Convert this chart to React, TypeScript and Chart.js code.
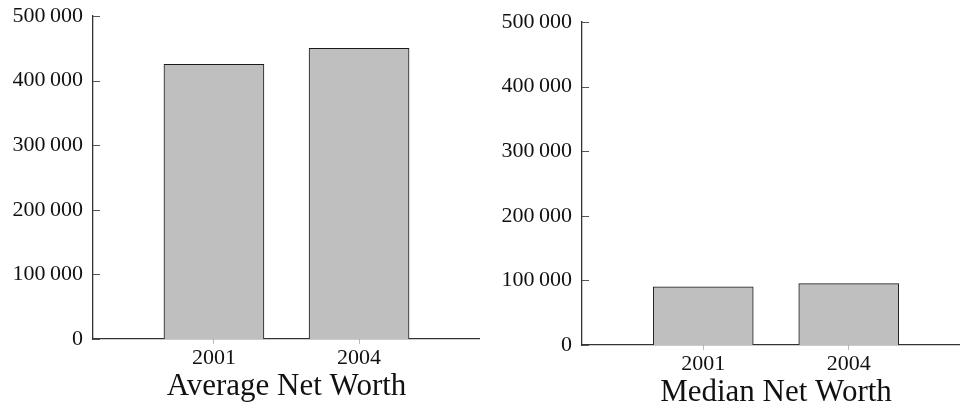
import React, { useEffect, useRef } from "react";
import { Chart, registerables } from "chart.js";

Chart.register(...registerables);

const years = [2001, 2004];
const averageNetWorth = [425000, 450000];
const medianNetWorth = [90000, 95000];
const yTickValues = [0, 100000, 200000, 300000, 400000, 500000];
const averageTitle = "Average Net Worth";
const medianTitle = "Median Net Worth";

const FONT = "'Liberation Serif', 'DejaVu Serif', serif";

const fmt = (v: number) =>
  v === 0 ? "0" : String(v).replace(/\B(?=(\d{3})+(?!\d))/g, "\u2009");

const innerYTicks = {
  id: "innerYTicks",
  afterDraw(chart: any) {
    const y = chart.scales.y;
    const ctx = chart.ctx;
    ctx.save();
    ctx.strokeStyle = "#555";
    ctx.lineWidth = 1;
    for (const t of y.ticks) {
      const py = Math.round(y.getPixelForValue(t.value)) + 0.5;
      ctx.beginPath();
      ctx.moveTo(chart.chartArea.left, py);
      ctx.lineTo(chart.chartArea.left + 7, py);
      ctx.stroke();
    }
    ctx.restore();
  },
};

function BarPanel(props: {
  values: number[];
  title: string;
  yAxisWidth: number;
  width: number;
  left: number;
  top: number;
}) {
  const ref = useRef<HTMLCanvasElement | null>(null);
  useEffect(() => {
    if (!ref.current) return;
    const chart = new Chart(ref.current, {
      type: "bar",
      data: {
        datasets: [
          {
            data: years.map((x, i) => ({ x, y: props.values[i] })),
            backgroundColor: "#bfbfbf",
            borderColor: "#1a1a1a",
            borderWidth: 1,
            barThickness: 100,
          },
        ],
      },
      options: {
        animation: false,
        responsive: false,
        maintainAspectRatio: false,
        layout: { padding: { top: 16, right: 0, bottom: 0, left: 0 } },
        plugins: { legend: { display: false }, tooltip: { enabled: false } },
        scales: {
          x: {
            type: "linear",
            offset: false,
            bounds: "data",
            min: 1998.5,
            max: 2006.5,
            afterBuildTicks: (s: any) => {
              s.ticks = years.map((v) => ({ value: v }));
            },
            afterFit: (s: any) => {
              s.height = 66;
              s.paddingLeft = 0;
              s.paddingRight = 0;
            },
            grid: {
              display: true,
              offset: false,
              drawOnChartArea: false,
              drawTicks: true,
              tickLength: 5,
              color: "#bbbbbb",
            },
            border: { display: true, color: "#333", width: 1.3 },
            ticks: {
              padding: 1,
              color: "#111",
              font: { family: FONT, size: 22 },
              callback: (v: any) => String(v),
              maxRotation: 0,
              autoSkip: false,
            },
            title: {
              display: true,
              text: props.title,
              color: "#111",
              font: { family: FONT, size: 31 },
              padding: { top: 0, bottom: 0 },
            },
          },
          y: {
            min: 0,
            max: 500000,
            afterBuildTicks: (s: any) => {
              s.ticks = yTickValues.map((v) => ({ value: v }));
            },
            afterFit: (s: any) => {
              s.width = props.yAxisWidth;
              s.paddingTop = 0;
              s.paddingBottom = 0;
            },
            grid: { display: false, drawTicks: false },
            border: { display: true, color: "#333", width: 1.3 },
            ticks: {
              padding: 10,
              color: "#111",
              font: { family: FONT, size: 22 },
              callback: (v: any) => fmt(Number(v)),
            },
          },
        },
      },
      plugins: [innerYTicks],
    } as any);
    return () => chart.destroy();
  }, []);
  return (
    <canvas
      ref={ref}
      width={props.width}
      height={405}
      style={{
        position: "absolute",
        left: props.left,
        top: props.top,
        width: props.width,
        height: 405,
      }}
    />
  );
}

export default function App() {
  useEffect(() => {
    document.body.style.margin = "0";
    document.body.style.overflow = "hidden";
  }, []);
  return (
    <div
      style={{
        position: "fixed",
        left: 0,
        top: 0,
        width: 960,
        height: 405,
        overflow: "hidden",
        background: "#fff",
      }}
    >
      <BarPanel
        values={averageNetWorth}
        title={averageTitle}
        yAxisWidth={93}
        width={480}
        left={0}
        top={0}
      />
      <BarPanel
        values={medianNetWorth}
        title={medianTitle}
        yAxisWidth={102}
        width={490}
        left={480}
        top={5.5}
      />
    </div>
  );
}
